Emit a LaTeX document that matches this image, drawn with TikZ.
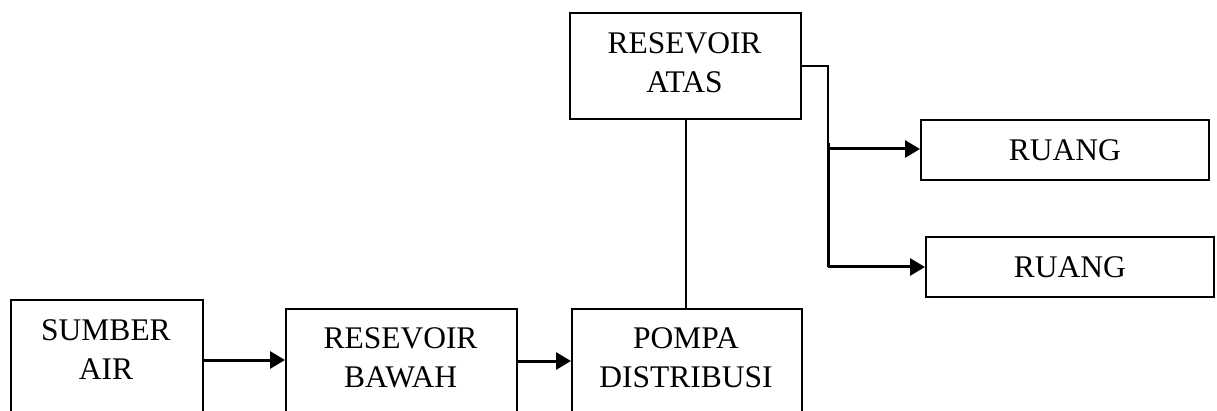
\documentclass[tikz,border=0pt]{standalone}
\usepackage{fontspec}
\setmainfont{Liberation Serif}
\usetikzlibrary{arrows.meta}
\begin{document}
\begin{tikzpicture}[x=1pt,y=-1pt,
  box/.style={draw,line width=1.8pt,inner sep=0pt},
  lbl/.style={inner sep=0pt,align=center,font=\fontsize{31.5}{39}\selectfont},
  thin/.style={line width=1.1pt},
  flow/.style={line width=3pt,-{Triangle[length=15pt,width=17pt]}},
  thick/.style={line width=3pt}]
\clip (0,0) rectangle (1217,411);
% bottom row boxes (cut off at the lower edge)
\node[box,anchor=north west,minimum width=192pt,minimum height=140pt] (sumber) at (10,299) {};
\node[lbl] (sumbert) at (106,349.5) {SUMBER\\AIR};
\node[box,anchor=north west,minimum width=231pt,minimum height=140pt] (bawah) at (285,308) {};
\node[lbl] (bawaht) at (400.5,358) {RESEVOIR\\BAWAH};
\node[box,anchor=north west,minimum width=230pt,minimum height=140pt] (pompa) at (571,308) {};
\node[lbl] (pompat) at (686,357.5) {POMPA\\DISTRIBUSI};
% top box
\node[box,anchor=north west,minimum width=231pt,minimum height=106pt] (atas) at (569,12) {};
\node[lbl] (atast) at (684.5,62.5) {RESEVOIR\\ATAS};
% rooms
\node[box,lbl,anchor=north west,minimum width=288pt,minimum height=60pt] (ruang1) at (920,119) {RUANG};
\node[box,lbl,anchor=north west,minimum width=288pt,minimum height=60pt] (ruang2) at (925,236) {RUANG};
% connectors
\coordinate (j0) at (828,66);
\coordinate (j1) at (828,143);
\coordinate (j2) at (828,267);
\draw[flow] (sumber.east |- 0,360) -- (bawah.west |- 0,360);
\draw[flow] (bawah.east |- 0,361) -- (pompa.west |- 0,361);
\draw[thin] (atas.south -| 686,0) -- (pompa.north -| 686,0);
\draw[thin] (atas.east |- j0) -- (j0) -- (j1);
\draw[thick] (j1) -- (j2);
\draw[flow] (828,149) -- (ruang1.west |- 0,149);
\draw[flow] (j2) -- (ruang2.west |- j2);
\end{tikzpicture}
\end{document}
